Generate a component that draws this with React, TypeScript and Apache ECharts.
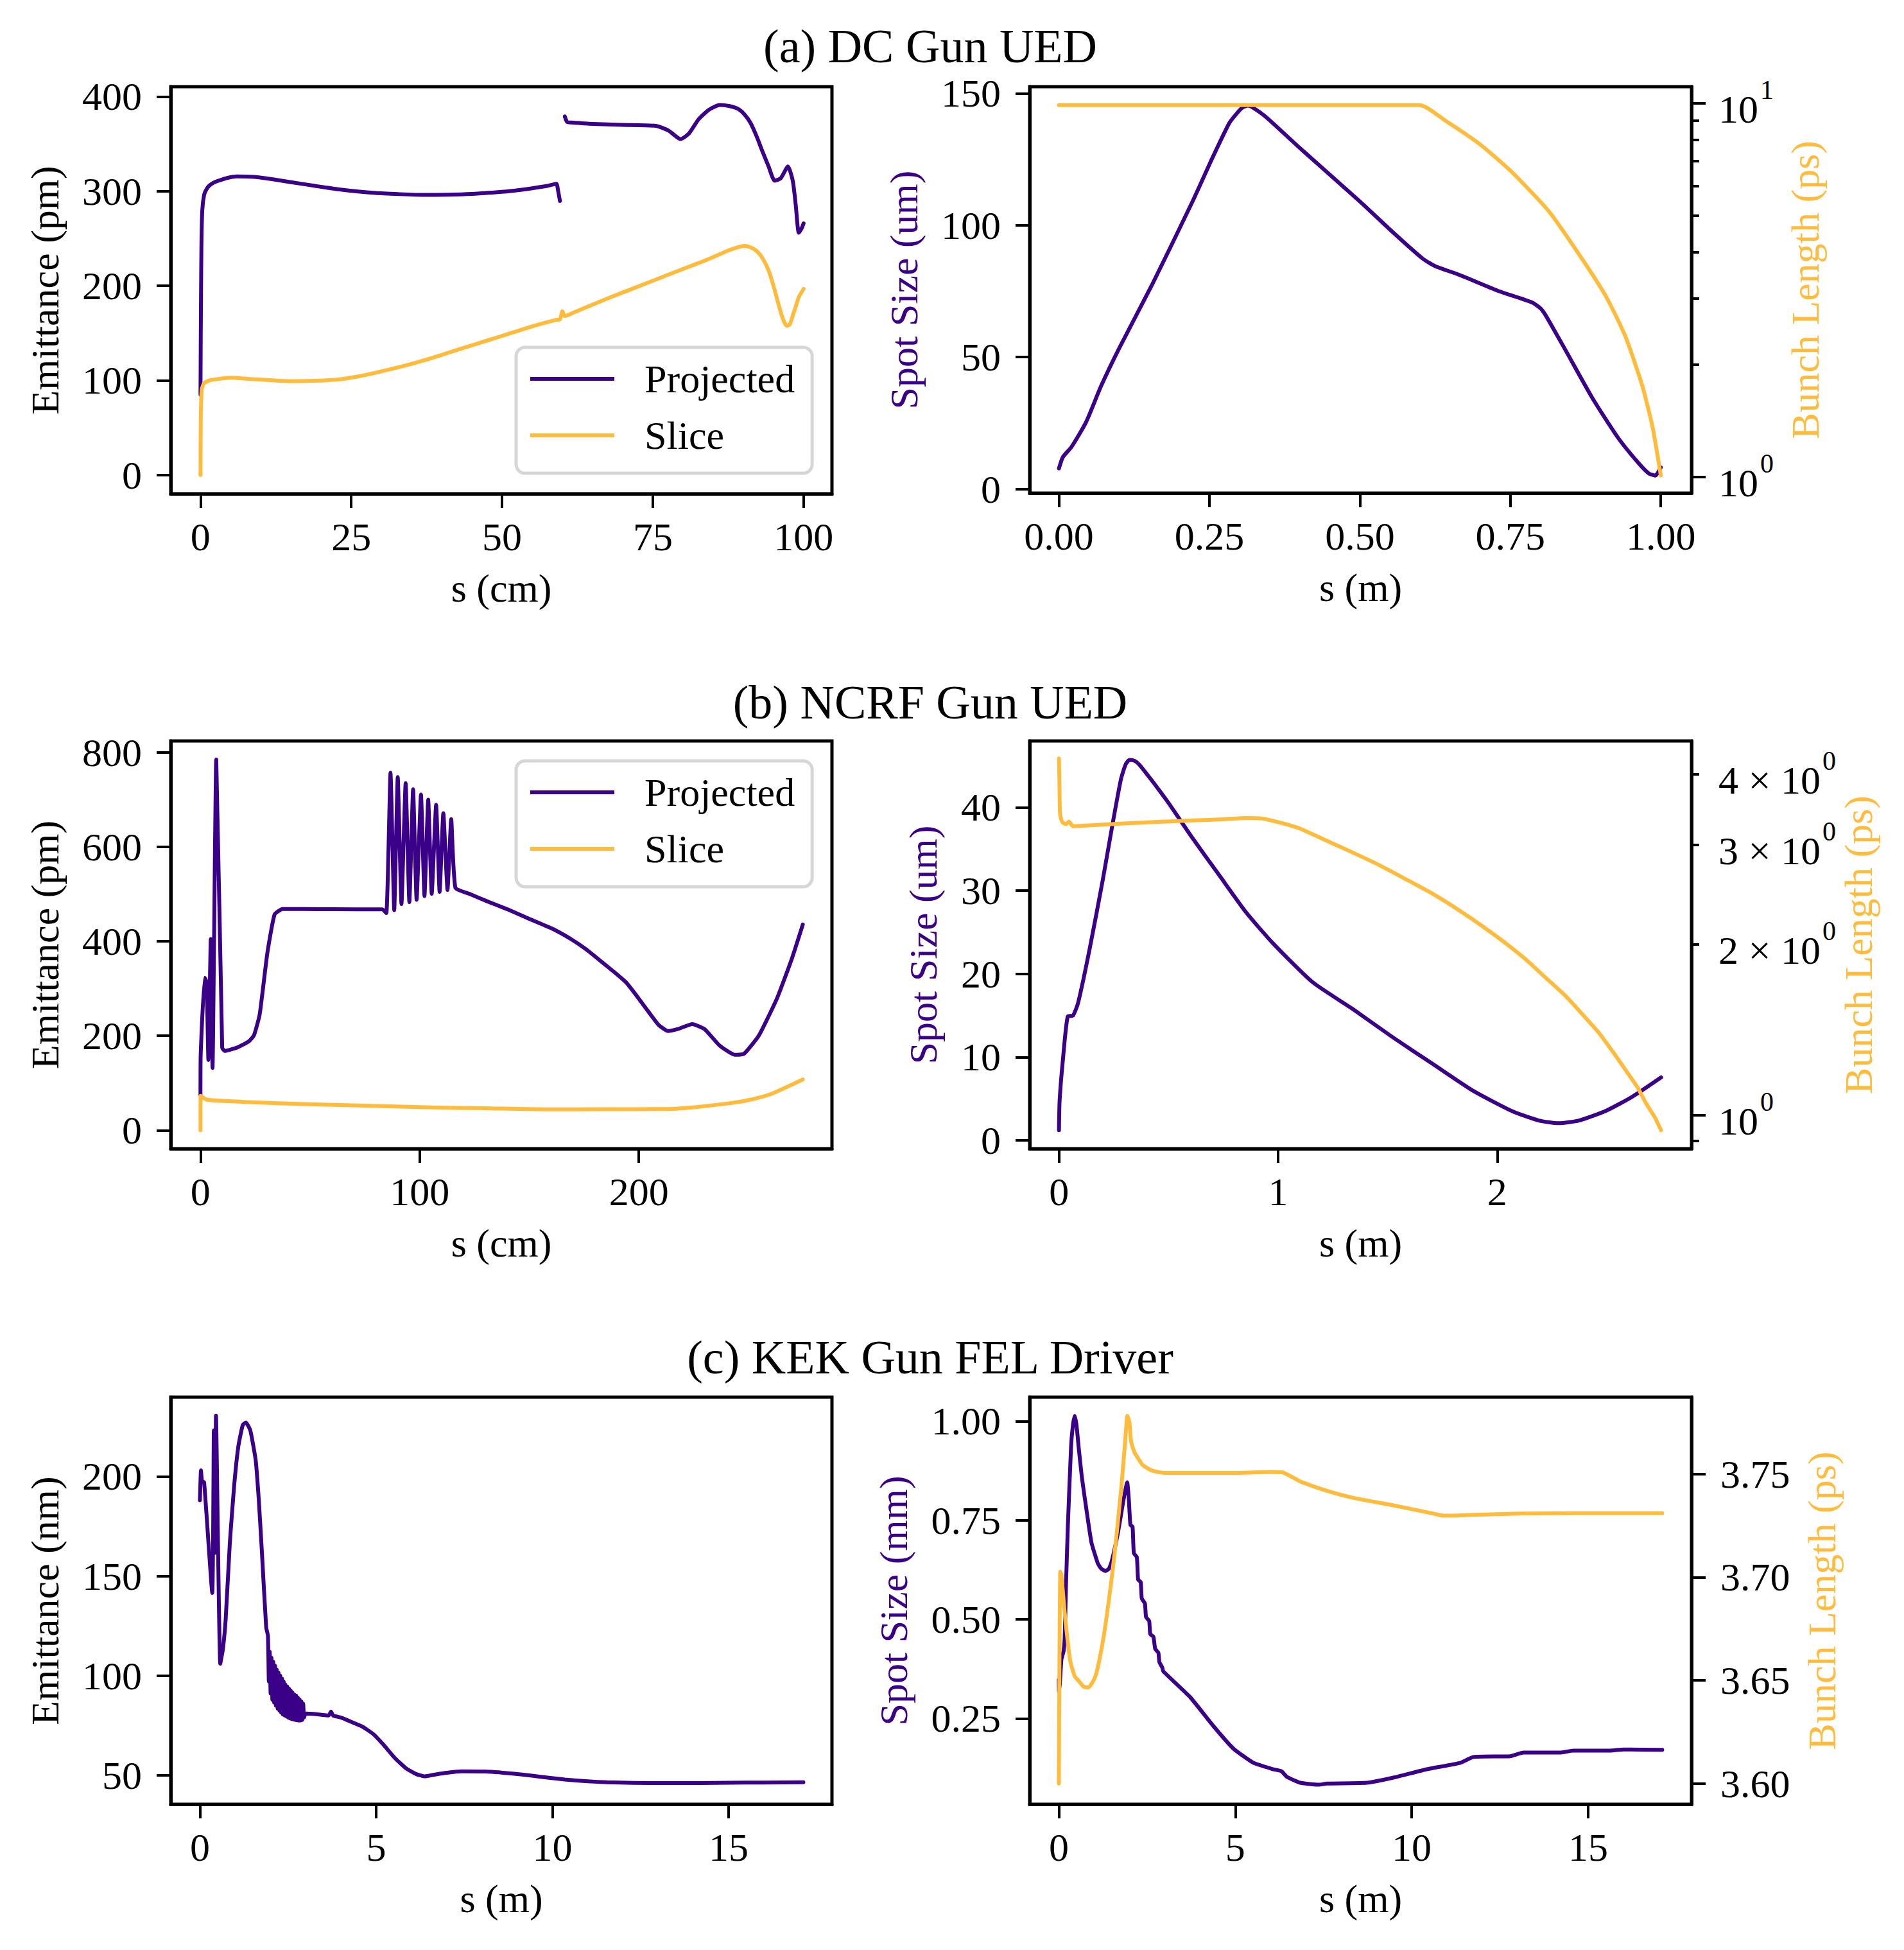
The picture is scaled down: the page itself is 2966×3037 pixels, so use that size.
import React, { useEffect, useRef } from 'react';
import * as echarts from 'echarts';

// ---------------- data ----------------
// (a) DC Gun UED, left: emittance (pm) vs s (cm)
const aProjS1 = [0, 0.05, 0.15, 0.3, 0.6, 1.0, 1.5, 2.2, 3, 4.5, 6, 9, 12, 15, 19, 23, 29, 33, 37, 41, 45, 49, 52, 55, 57.5, 59.0, 59.3, 59.6];
const aProjE1 = [85, 150, 240, 280, 296, 302, 306, 309, 311, 314, 315.6, 315, 312.5, 309.5, 305.5, 301.8, 298, 296.8, 296, 296.2, 297, 298.8, 300.5, 303, 305.5, 307.8, 300, 289.6];
const aProjS2 = [60.4, 60.8, 61.5, 65, 70, 75.5, 77.6, 79.6, 81, 82.6, 84.3, 86.1, 87.6, 89.1, 90.2, 91.2, 92.2, 93.2, 94.2, 95.2, 96.2, 97.4, 98.2, 98.7, 99.2, 99.7, 100];
const aProjE2 = [379, 373, 372.5, 371, 370, 369, 364, 355, 361, 376, 386, 391, 390, 387, 381, 372, 358, 341.6, 326, 311, 313.5, 326, 311, 285, 256, 261, 266];
const aSliceS = [0, 0.05, 0.2, 0.6, 1.5, 3, 5, 8, 12, 15, 19, 23, 26, 29, 33, 37, 41, 45, 49, 52, 55.5, 59.0, 59.6, 60.0, 60.4, 62, 67.5, 71.5, 75.5, 79.5, 83.6, 86, 87.6, 89, 90.2, 91.2, 92.2, 93.2, 94.2, 95, 95.7, 96.5, 97.2, 97.7, 98.2, 98.7, 99.2, 100];
const aSliceE = [0, 60, 90, 97, 100, 101.5, 102.7, 101.5, 100, 99, 99.5, 101, 104, 108, 114, 121, 129, 137, 145, 151, 158, 164, 164.5, 173, 168, 172, 186.6, 196.5, 206.5, 216.5, 226.5, 233, 237.5, 240.5, 242, 240.5, 236.8, 229, 216, 200, 183.6, 166, 157.6, 159, 168.4, 178, 188, 196.6];

// (a) right: spot size (um) and bunch length (ps) vs s (m)
const aSpotS = [0, 0.0066, 0.021, 0.045, 0.07, 0.1, 0.156, 0.222, 0.256, 0.283, 0.296, 0.305, 0.314, 0.322, 0.344, 0.4, 0.5, 0.554, 0.604, 0.625, 0.665, 0.731, 0.786, 0.8, 0.809, 0.842, 0.886, 0.93, 0.963, 0.98, 0.991, 1.0];
const aSpotV = [7.8, 12.1, 16, 25.3, 39, 53.3, 78, 109, 126, 138.7, 142.5, 144.6, 145.3, 144.6, 141, 129.3, 109, 97.5, 87.4, 84.5, 81.2, 75, 70.7, 68.5, 65.7, 52.5, 34.6, 19.1, 9.8, 5.9, 5.1, 8.2];
const aBunchS = [0, 0.1, 0.2, 0.3, 0.4, 0.5, 0.6, 0.643, 0.698, 0.753, 0.814, 0.864, 0.908, 0.941, 0.969, 0.986, 1.0];
const aBunchV = [9.9, 9.9, 9.9, 9.9, 9.9, 9.9, 9.9, 8.97, 7.81, 6.54, 5.14, 3.945, 3.06, 2.38, 1.757, 1.365, 1.008];

// (b) NCRF Gun UED, left: emittance (pm) vs s (cm)
const bProjS = [0, 0.1, 1.9, 2.8, 3.6, 4.7, 5.5, 7.2, 9.9, 11, 16.6, 22, 24.4, 27, 30.5, 33.8, 37.4, 47, 60, 83, 84.8, 86.7, 88.4, 90, 91.7, 93.6, 95.3, 97, 98.6, 100.6, 102.2, 103.9, 105.5, 107.5, 109.1, 110.8, 112.7, 114.4, 116.3, 123, 130.2, 140, 149.6, 160, 169, 176, 182.8, 188.5, 194, 198, 202, 205.5, 209, 213.3, 217.5, 224.4, 230, 236.8, 243.8, 248, 254.8, 263, 270, 274.8];
const bProjE = [75, 160, 323, 314, 149, 405, 132, 785, 175, 168, 175, 188, 201, 245, 375, 457, 468.5, 468.5, 468, 467.7, 460, 757, 466, 748, 479, 735, 483, 722, 488, 711, 496, 700, 500.7, 689, 505, 671.6, 509, 659, 513.7, 500, 486, 468, 448.6, 428, 405, 383, 357.5, 336, 314, 291, 266, 244, 223, 210, 214, 224.7, 214, 179.6, 159.7, 162, 201, 279, 366, 435.6];
const bSliceS = [0, 0.05, 1.0, 2.8, 8.3, 20, 47, 75, 102.5, 130, 158, 185, 213, 227, 241, 248, 255, 261, 266, 270, 274.8];
const bSliceE = [0, 73, 70, 65, 62.5, 60, 55.5, 52, 48.6, 46.5, 44.3, 44.5, 45, 49.5, 57, 62, 69.4, 78, 88.5, 97, 107.6];

// (b) right
const bSpotS = [0, 0.003, 0.018, 0.04, 0.064, 0.088, 0.14, 0.2, 0.246, 0.283, 0.305, 0.322, 0.345, 0.368, 0.49, 0.61, 0.733, 0.854, 0.976, 1.158, 1.34, 1.523, 1.705, 1.888, 2.07, 2.19, 2.28, 2.374, 2.495, 2.617, 2.748];
const bSpotV = [1.23, 4.8, 9.7, 14.9, 15, 16.6, 23, 31.3, 38.2, 43.4, 45.2, 45.7, 45.6, 45.1, 40.9, 36.3, 31.8, 27.4, 23.7, 19, 15.8, 12.4, 9.2, 6, 3.5, 2.4, 2.07, 2.4, 3.54, 5.26, 7.57];
const bBunchS = [0, 0.002, 0.005, 0.015, 0.033, 0.045, 0.064, 0.15, 0.307, 0.45, 0.61, 0.75, 0.854, 0.93, 0.976, 1.037, 1.097, 1.219, 1.34, 1.462, 1.583, 1.705, 1.826, 1.948, 2.04, 2.13, 2.22, 2.313, 2.39, 2.465, 2.53, 2.586, 2.64, 2.678, 2.72, 2.748];
const bBunchV = [4.264, 3.9, 3.4, 3.293, 3.265, 3.3, 3.238, 3.25, 3.276, 3.295, 3.314, 3.33, 3.347, 3.34, 3.309, 3.265, 3.21, 3.055, 2.91, 2.764, 2.61, 2.46, 2.3, 2.135, 2.01, 1.884, 1.75, 1.622, 1.505, 1.396, 1.29, 1.201, 1.12, 1.051, 0.99, 0.94];

// (c) KEK Gun FEL Driver, left: emittance (nm) vs s (m)
const cEmitS = [0, 0.03, 0.06, 0.12, 0.35, 0.395, 0.425, 0.456, 0.577, 0.65, 0.73, 0.85, 0.97, 1.09, 1.215, 1.306, 1.43, 1.58, 1.67, 1.76, 1.88,
  1.93, 1.955, 1.98, 2.005, 2.03, 2.055, 2.08, 2.105, 2.13, 2.155, 2.18, 2.205, 2.23, 2.255, 2.28, 2.305, 2.33, 2.355, 2.38, 2.405, 2.43, 2.455,
  2.48, 2.505, 2.53, 2.555, 2.58, 2.605, 2.63, 2.655, 2.68, 2.705, 2.73, 2.755, 2.78, 2.805, 2.83, 2.855, 2.88, 2.905, 2.93, 2.955,
  3.0, 3.3, 3.65, 3.72, 3.78, 4.0, 4.31, 4.6, 4.92, 5.2, 5.53, 5.85, 6.14, 6.38, 6.7, 7.0, 7.42, 8.1, 8.6, 9.14, 9.7, 10.35, 11.0, 11.55, 12.3, 13.28, 14.2, 15, 16, 17.12];
const cEmitV = [188, 203, 197.6, 197, 141.5, 223, 161.6, 230.4, 106, 113, 128, 166.9, 195, 215, 225.7, 227, 223, 208.4, 188.3, 161.6, 124.2,
  120, 97, 112, 91, 109, 88, 107, 86.5, 105, 85, 103, 83.5, 101.5, 82.5, 100, 81.5, 98.5, 80.5, 97, 80, 95.5, 79.5,
  94.5, 79, 93.5, 78.5, 92.5, 78.2, 91.5, 78, 90.5, 77.8, 90, 77.6, 89, 77.5, 88, 77.5, 87, 77.8, 86, 79,
  81, 80.7, 80, 82, 80, 79, 76.7, 74.5, 70.7, 65.5, 58.7, 53.5, 50.6, 49.5, 50.5, 51.3, 52, 51.9, 51.3, 50.4, 49.2, 47.9, 47, 46.5, 46.2, 46.1, 46.1, 46.3, 46.4, 46.5];

// (c) right
const cSpotS = [0, 0.005, 0.03, 0.073, 0.134, 0.164, 0.2, 0.255, 0.346, 0.4, 0.449, 0.5, 0.559, 0.65, 0.741, 0.923, 1.105, 1.2, 1.318, 1.42, 1.5, 1.68, 1.834, 1.937, 1.985, 2.028, 2.089, 2.125, 2.21, 2.247, 2.32, 2.35, 2.44, 2.47, 2.56, 2.59, 2.68, 2.73, 2.82, 2.85, 2.93, 2.96, 3.72, 4.38, 4.95, 5.52, 6.08, 6.31, 6.46, 6.84, 7.37, 7.6, 8.73, 9.48, 10.43, 11.37, 11.75, 12.79, 13.17, 14.2, 14.58, 15.62, 16.0, 17.1];
const cSpotV = [0.348, 0.318, 0.34, 0.399, 0.42, 0.45, 0.58, 0.735, 0.936, 0.99, 1.013, 0.99, 0.936, 0.86, 0.802, 0.694, 0.641, 0.628, 0.622, 0.628, 0.647, 0.721, 0.802, 0.846, 0.80, 0.738, 0.734, 0.667, 0.657, 0.60, 0.594, 0.553, 0.54, 0.506, 0.496, 0.463, 0.456, 0.426, 0.416, 0.392, 0.379, 0.369, 0.304, 0.231, 0.174, 0.138, 0.122, 0.117, 0.103, 0.088, 0.083, 0.086, 0.088, 0.101, 0.122, 0.138, 0.153, 0.155, 0.164, 0.164, 0.169, 0.169, 0.172, 0.171];
const cBunchS = [0, 0.04, 0.073, 0.164, 0.316, 0.45, 0.559, 0.7, 0.83, 0.95, 1.044, 1.15, 1.287, 1.41, 1.53, 1.65, 1.773, 1.88, 1.943, 2.0, 2.046, 2.137, 2.23, 2.38, 2.62, 2.99, 4.0, 5.0, 6.0, 6.33, 6.84, 7.6, 8.35, 9.48, 10.62, 10.9, 11.75, 13.07, 14.58, 17.1];
const cBunchV = [3.600, 3.7027, 3.701, 3.683, 3.660, 3.652, 3.6498, 3.647, 3.6466, 3.649, 3.6524, 3.66, 3.673, 3.688, 3.704, 3.723, 3.744, 3.766, 3.7782, 3.775, 3.766, 3.7608, 3.758, 3.7543, 3.7518, 3.7505, 3.7505, 3.7505, 3.751, 3.7508, 3.7464, 3.7418, 3.7384, 3.7348, 3.7308, 3.7298, 3.7302, 3.7308, 3.731, 3.731];

// ---------------- ticks / labels ----------------
const titles = ['(a) DC Gun UED', '(b) NCRF Gun UED', '(c) KEK Gun FEL Driver'];
const legendNames = ['Projected', 'Slice'];

const aLeftXTicks = [0, 25, 50, 75, 100];
const aLeftYTicks = [0, 100, 200, 300, 400];
const aRightXTicks = [0, 0.25, 0.5, 0.75, 1.0];
const aRightXLabels = ['0.00', '0.25', '0.50', '0.75', '1.00'];
const aSpotTicks = [0, 50, 100, 150];
const aBunchMajor = [1, 10];
const aBunchMajorMant = ['', ''];
const aBunchMajorExp = ['0', '1'];
const aBunchMinor = [2, 3, 4, 5, 6, 7, 8, 9];

const bLeftXTicks = [0, 100, 200];
const bLeftYTicks = [0, 200, 400, 600, 800];
const bRightXTicks = [0, 1, 2];
const bSpotTicks = [0, 10, 20, 30, 40];
const bBunchMajor = [1];
const bBunchLabelVals = [1, 2, 3, 4];
const bBunchLabelMant = ['', '2 \u00d7 ', '3 \u00d7 ', '4 \u00d7 '];
const bBunchLabelExp = ['0', '0', '0', '0'];
const bBunchMinor = [0.9, 2, 3, 4];

const cXTicks = [0, 5, 10, 15];
const cLeftYTicks = [50, 100, 150, 200];
const cSpotTicks = [0.25, 0.5, 0.75, 1.0];
const cSpotLabels = ['0.25', '0.50', '0.75', '1.00'];
const cBunchTicks = [3.6, 3.65, 3.7, 3.75];
const cBunchLabels = ['3.60', '3.65', '3.70', '3.75'];

// ---------------- styling ----------------
const FONT = "'Liberation Serif', 'Times New Roman', Times, serif";
const PURPLE = '#3A0088';
const GOLD = '#FFBC3C';
const FS = 62;
const LW = 6;

const zip = (xs: number[], ys: number[]) => xs.map((x, i) => [x, ys[i]]);
const findIdx = (arr: number[], v: number) => arr.findIndex((t) => Math.abs(t - v) < 1e-7 * Math.max(1, Math.abs(t)));

function labelFmt(ticks: number[], labels?: string[]) {
  return (v: number) => {
    const i = findIdx(ticks, v);
    if (i < 0) return '';
    return labels ? labels[i] : String(ticks[i]);
  };
}

const supRich = {
  b: { fontFamily: FONT, fontSize: FS, lineHeight: FS, color: '#000', padding: [18, 0, 0, 0] },
  s: { fontFamily: FONT, fontSize: 42, lineHeight: 42, color: '#000', padding: [0, 0, 42, 3] },
};

function logFmt(vals: number[], mant: string[], exp: string[]) {
  return (v: number) => {
    const i = findIdx(vals, v);
    if (i < 0) return '';
    return '{b|' + mant[i] + '10}{s|' + exp[i] + '}';
  };
}

const grids = [
  { left: 266, top: 135, width: 1030, height: 634 },
  { left: 1604, top: 135, width: 1031, height: 633 },
  { left: 266, top: 1154, width: 1030, height: 635 },
  { left: 1604, top: 1154, width: 1031, height: 635 },
  { left: 266, top: 2176, width: 1030, height: 634 },
  { left: 1604, top: 2176, width: 1031, height: 634 },
];

const tickStyle = (len: number, ticks: number[]) => ({
  show: true, inside: false, length: len, customValues: ticks,
  lineStyle: { color: '#000', width: 4 },
});

function xAxis(gridIndex: number, min: number, max: number, ticks: number[], labels: string[] | undefined, name: string) {
  return {
    type: 'value', gridIndex, min, max, name,
    nameLocation: 'middle', nameGap: 116,
    nameTextStyle: { fontFamily: FONT, fontSize: FS, color: '#000' },
    axisLine: { show: true, onZero: false, lineStyle: { color: '#000', width: 5 } },
    axisTick: tickStyle(22, ticks),
    axisLabel: { show: true, margin: 36, fontFamily: FONT, fontSize: FS, color: '#000', customValues: ticks, formatter: labelFmt(ticks, labels) },
    splitLine: { show: false },
  };
}

function yAxis(gridIndex: number, position: string, min: number, max: number, ticks: number[], labels: string[] | undefined, name: string, nameColor: string, nameGap: number) {
  return {
    type: 'value', gridIndex, position, min, max, name,
    nameLocation: 'middle', nameGap, nameRotate: 90,
    nameTextStyle: { fontFamily: FONT, fontSize: FS, color: nameColor },
    axisLine: { show: true, onZero: false, lineStyle: { color: '#000', width: 5 } },
    axisTick: tickStyle(22, ticks),
    axisLabel: { show: true, margin: 45, fontFamily: FONT, fontSize: FS, color: '#000', customValues: ticks, formatter: labelFmt(ticks, labels) },
    splitLine: { show: false },
  };
}

function logAxis(gridIndex: number, min: number, max: number, major: number[], labelVals: number[], mant: string[], exp: string[], name: string, nameGap: number) {
  return {
    type: 'log', logBase: 10, gridIndex, position: 'right', min, max, name,
    nameLocation: 'middle', nameGap, nameRotate: 90,
    nameTextStyle: { fontFamily: FONT, fontSize: FS, color: GOLD },
    axisLine: { show: true, onZero: false, lineStyle: { color: '#000', width: 5 } },
    axisTick: tickStyle(22, major),
    axisLabel: { show: true, margin: 42, fontFamily: FONT, fontSize: FS, color: '#000', customValues: labelVals, formatter: logFmt(labelVals, mant, exp), rich: supRich },
    splitLine: { show: false },
  };
}

function minorLogAxis(gridIndex: number, min: number, max: number, minor: number[]) {
  return {
    type: 'log', logBase: 10, gridIndex, position: 'right', offset: 0, min, max,
    axisLine: { show: false, onZero: false },
    axisTick: tickStyle(12, minor),
    axisLabel: { show: false },
    splitLine: { show: false },
  };
}

function line(name: string, xs: number[], ys: number[], color: string, xi: number, yi: number, smooth: number | boolean) {
  return {
    type: 'line', name, xAxisIndex: xi, yAxisIndex: yi,
    data: zip(xs, ys), showSymbol: false, symbol: 'none', smooth,
    lineStyle: { color, width: LW, join: 'round', cap: 'round' }, itemStyle: { color },
    emphasis: { disabled: true }, silent: true, clip: true,
  };
}

const legendBox = (top: number) => ({
  data: legendNames.map((n) => ({ name: n, icon: 'rect' })), orient: 'vertical', left: 804, top,
  itemWidth: 131, itemHeight: LW, itemGap: 26,
  padding: [18, 27, 28, 22],
  backgroundColor: 'rgba(255,255,255,0.8)', borderColor: '#d6d6d6', borderWidth: 5, borderRadius: 14,
  selectedMode: false,
  formatter: (n: string) => '{g|}{t|' + n + '}',
  textStyle: {
    fontFamily: FONT, fontSize: FS, color: '#000', lineHeight: 62,
    rich: { g: { width: 42, height: 62 }, t: { fontFamily: FONT, fontSize: FS, color: '#000', lineHeight: 62 } },
  },
});

const titleAt = (text: string, top: number) => ({
  text, left: 1449, top, textAlign: 'center', padding: 0,
  textStyle: { fontFamily: FONT, fontSize: 74, fontWeight: 'normal', color: '#000' },
});

export default function App() {
  const ref = useRef<HTMLDivElement>(null);
  useEffect(() => {
    if (!ref.current) return;
    const chart = echarts.init(ref.current, null, { renderer: 'svg' });
    const option: any = {
      animation: false,
      backgroundColor: '#ffffff',
      title: [titleAt(titles[0], 35), titleAt(titles[1], 1057), titleAt(titles[2], 2077)],
      legend: [legendBox(541), legendBox(1185)],
      grid: grids.map((g) => ({ ...g, show: true, borderColor: '#000', borderWidth: 5, backgroundColor: 'transparent', containLabel: false, outerBoundsMode: 'none' })),
      xAxis: [
        xAxis(0, -4.93, 104.7, aLeftXTicks, undefined, 's (cm)'),
        xAxis(1, -0.0486, 1.051, aRightXTicks, aRightXLabels, 's (m)'),
        xAxis(2, -13.56, 288.1, bLeftXTicks, undefined, 's (cm)'),
        xAxis(3, -0.1337, 2.887, bRightXTicks, undefined, 's (m)'),
        xAxis(4, -0.827, 17.93, cXTicks, undefined, 's (m)'),
        xAxis(5, -0.827, 17.93, cXTicks, undefined, 's (m)'),
      ],
      yAxis: [
        yAxis(0, 'left', -19.9, 410.4, aLeftYTicks, undefined, 'Emittance (pm)', '#000', 165),
        yAxis(1, 'left', -1.56, 152.5, aSpotTicks, undefined, 'Spot Size (um)', PURPLE, 165),
        logAxis(1, 0.904, 11.09, aBunchMajor, aBunchMajor, aBunchMajorMant, aBunchMajorExp, 'Bunch Length (ps)', 146),
        minorLogAxis(1, 0.904, 11.09, aBunchMinor),
        yAxis(2, 'left', -39, 824.4, bLeftYTicks, undefined, 'Emittance (pm)', '#000', 165),
        yAxis(3, 'left', -0.99, 47.98, bSpotTicks, undefined, 'Spot Size (um)', PURPLE, 135),
        logAxis(3, 0.872, 4.58, bBunchMajor, bBunchLabelVals, bBunchLabelMant, bBunchLabelExp, 'Bunch Length (ps)', 226),
        minorLogAxis(3, 0.872, 4.58, bBunchMinor),
        yAxis(4, 'left', 35.5, 239.7, cLeftYTicks, undefined, 'Emittance (nm)', '#000', 165),
        yAxis(5, 'left', 0.0338, 1.0604, cSpotTicks, cSpotLabels, 'Spot Size (mm)', PURPLE, 181),
        yAxis(5, 'right', 3.590, 3.7872, cBunchTicks, cBunchLabels, 'Bunch Length (ps)', GOLD, 172),
      ],
      series: [
        line('Projected', aProjS1, aProjE1, PURPLE, 0, 0, 0.2),
        line('Projected', aProjS2, aProjE2, PURPLE, 0, 0, 0.2),
        line('Slice', aSliceS, aSliceE, GOLD, 0, 0, 0.2),
        line('Spot Size', aSpotS, aSpotV, PURPLE, 1, 1, 0.2),
        line('Bunch Length', aBunchS, aBunchV, GOLD, 1, 2, 0.2),
        line('Projected', bProjS, bProjE, PURPLE, 2, 4, 0.15),
        line('Slice', bSliceS, bSliceE, GOLD, 2, 4, 0.2),
        line('Spot Size', bSpotS, bSpotV, PURPLE, 3, 5, 0.2),
        line('Bunch Length', bBunchS, bBunchV, GOLD, 3, 6, 0.2),
        line('Emittance', cEmitS, cEmitV, PURPLE, 4, 8, 0.15),
        line('Spot Size', cSpotS, cSpotV, PURPLE, 5, 9, 0.15),
        line('Bunch Length', cBunchS, cBunchV, GOLD, 5, 10, 0.2),
      ],
    };
    chart.setOption(option);
    return () => chart.dispose();
  }, []);
  return (
    <div
      ref={ref}
      style={{ position: 'absolute', left: 0, top: 0, width: 2966, height: 3037, background: '#ffffff' }}
    />
  );
}
